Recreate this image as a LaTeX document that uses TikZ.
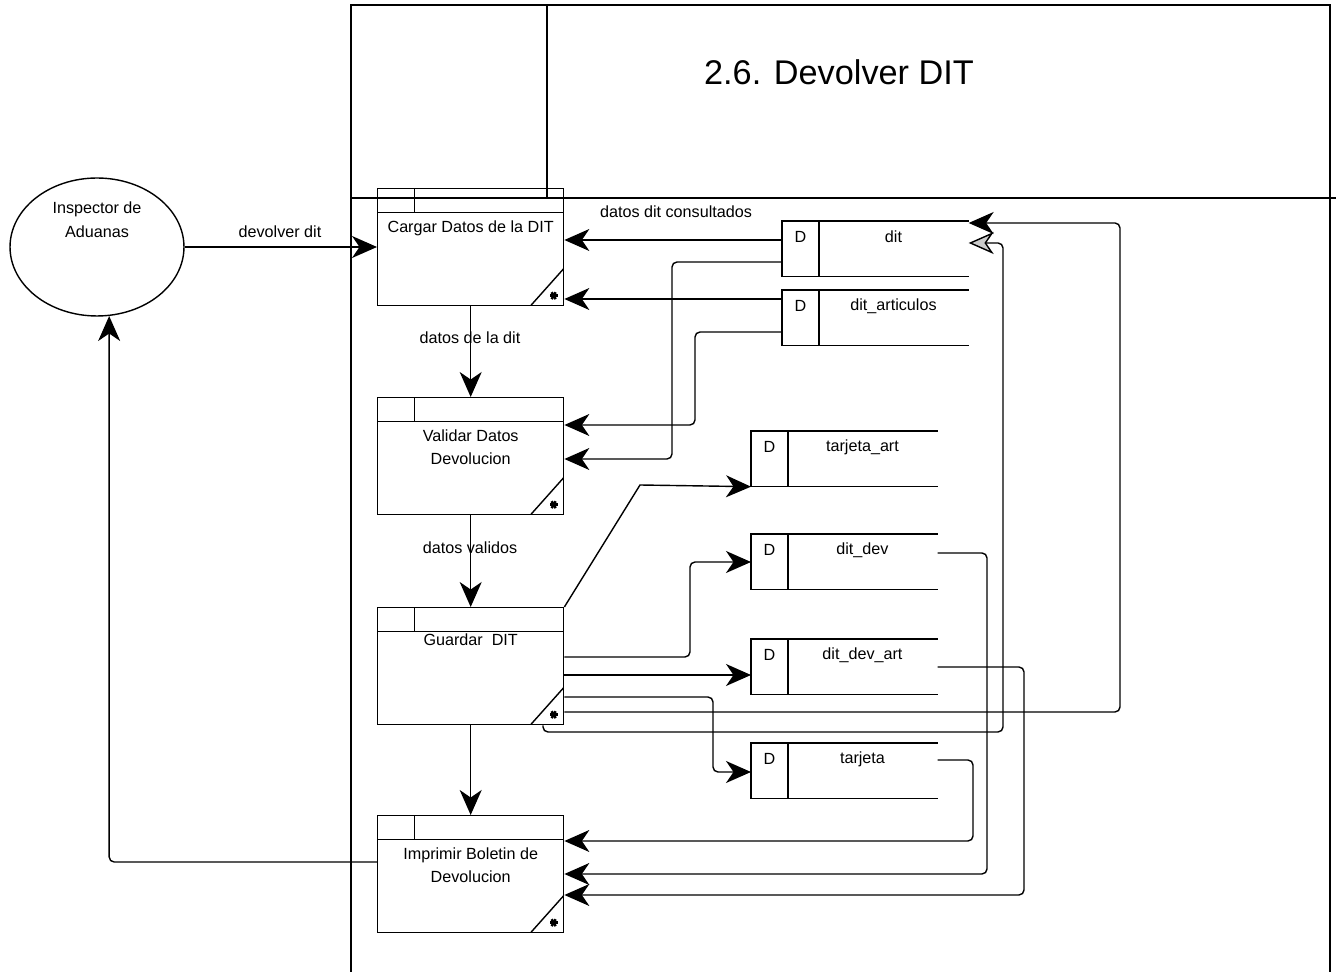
\documentclass[tikz,border=0pt]{standalone}
\usepackage{fontspec}
\setmainfont{Liberation Sans}
\usetikzlibrary{arrows.meta,positioning,shapes.geometric}

\tikzset{
  ptext/.style={font=\fontsize{9.2}{13.6}\selectfont, align=center, inner sep=0pt},
  proc/.style={draw, rectangle, line width=0.8pt, anchor=north west,
    minimum width=3.72cm, minimum height=2.34cm, inner sep=0pt,
    path picture={
      \draw[line width=0.8pt] ([yshift=-0.48cm]path picture bounding box.north west) -- ([yshift=-0.48cm]path picture bounding box.north east);
      \draw[line width=0.8pt] ([xshift=0.74cm]path picture bounding box.north west) -- ++(0,-0.48cm);
      \draw[line width=0.8pt] ([xshift=-0.66cm]path picture bounding box.south east) -- ([yshift=0.74cm]path picture bounding box.south east);
      \foreach \a in {0,60,120}
        \draw[line width=1.4pt] ([xshift=-0.2cm,yshift=0.2cm]path picture bounding box.south east) ++(\a:0.08cm) -- ++(\a+180:0.16cm);
    }},
  store/.style={rectangle, anchor=north west, minimum width=3.72cm, minimum height=1.1cm, inner sep=0pt},
  flow/.style={line width=0.8pt, rounded corners=0.1cm, -{Stealth[length=0.5cm, width=0.44cm, inset=0.15cm]}},
  flowh/.style={line width=0.8pt, rounded corners=0.1cm, -{Stealth[length=0.5cm, width=0.44cm, inset=0.15cm, fill=gray!40]}}
}

\begin{document}
\begin{tikzpicture}[x=0.02cm, y=-0.02cm]
\useasboundingbox (0,0) rectangle (1336,972);

% Frame and title
\draw[line width=1pt] (351,990) -- (351,5) -- (1330,5) -- (1330,990);
\draw[line width=1pt] (351,198) -- (1340,198);
\draw[line width=1pt] (547,5) -- (547,198);
\node[font=\fontsize{19.5}{23}\selectfont] (title) at (839,72) {2.6. Devolver DIT};

% External entity
\node[draw, ellipse, line width=0.8pt, minimum width=3.48cm, minimum height=2.76cm] (insp) at (97,247) {};
\node[ptext] (insp-txt) at (97,220) {Inspector de\\Aduanas};

% Processes
\node[proc] (cargar) at (377,188) {};
\node[proc] (validar) at (377,397) {};
\node[proc] (guardar) at (377,607) {};
\node[proc] (imprimir) at (377,815) {};
\node[ptext, anchor=north] (cargar-txt) at ([yshift=-0.64cm]cargar.north) {Cargar Datos de la DIT};
\node[ptext, anchor=north] (validar-txt) at ([yshift=-0.64cm]validar.north) {Validar Datos\\Devolucion};
\node[ptext, anchor=north] (guardar-txt) at ([yshift=-0.52cm]guardar.north) {Guardar\ \ DIT};
\node[ptext, anchor=north] (imprimir-txt) at ([yshift=-0.64cm]imprimir.north) {Imprimir Boletin de\\Devolucion};

% Data stores
\node[store] (dit) at (782,221) {};
\node[store] (ditart) at (782,290) {};
\node[store] (tarjart) at (751,431) {};
\node[store] (ditdev) at (751,534) {};
\node[store] (ditdevart) at (751,639) {};
\node[store] (tarjeta) at (751,743) {};
\foreach \s/\t in {dit/dit, ditart/dit\_articulos, tarjart/tarjeta\_art, ditdev/dit\_dev, ditdevart/dit\_dev\_art, tarjeta/tarjeta} {
  \draw[line width=0.8pt] (\s.north east) -- (\s.north west) -- (\s.south west) -- (\s.south east);
  \draw[line width=0.8pt] ([xshift=0.74cm]\s.north west) -- ([xshift=0.74cm]\s.south west);
  \node[ptext] (\s-d) at ([xshift=0.37cm,yshift=-0.32cm]\s.north west) {D};
  \node[ptext] (\s-lbl) at ([xshift=2.23cm,yshift=-0.32cm]\s.north west) {\t};
}

% Flows
\draw[flow] (insp.east) -- (cargar.west |- insp.east);
\node[ptext] (lbl-dev) at (280,232) {devolver dit};
\draw[flow] (cargar.south) -- (validar.north);
\node[ptext] (lbl-dd) at (470,338) {datos de la dit};
\draw[flow] (validar.south) -- (guardar.north);
\node[ptext] (lbl-dv) at (470,548) {datos validos};
\draw[flow] (guardar.south) -- (imprimir.north);
\draw[flow] (imprimir.west |- 0,862) -| (insp.-80);

\draw[flow] (dit.west |- 0,240) -- (cargar.east |- 0,240);
\node[ptext] (lbl-dc) at (676,212) {datos dit consultados};
\draw[flow] (dit.west |- 0,262) -- (672,262) -- (672,459) -- (validar.east |- 0,459);
\draw[flow] (ditart.west |- 0,299) -- (cargar.east |- 0,299);
\draw[flow] (ditart.west |- 0,332) -- (695,332) -- (695,425) -- (validar.east |- 0,425);

\draw[flow, sharp corners] (guardar.north east) -- (640,485) -- (tarjart.south west);
\draw[flow] (guardar.east |- 0,657) -- (690,657) -- (690,562) -- (ditdev.west |- 0,562);
\draw[flow] (guardar.east |- 0,675) -- (ditdevart.west |- 0,675);
\draw[flow] (guardar.east |- 0,697) -- (713,697) -- (713,772) -- (tarjeta.west |- 0,772);
\draw[flow] (guardar.east |- 0,712) -- (1120,712) -- (1120,223) -- (dit.east |- 0,223);
\draw[flowh] (guardar.south -| 543,0) -- (543,732) -- (1003,732) -- (1003,243) -- (dit.east |- 0,243);

\draw[flow] (tarjeta.east |- 0,760) -- (973,760) -- (973,841) -- (imprimir.east |- 0,841);
\draw[flow] (ditdev.east |- 0,553) -- (987,553) -- (987,874) -- (imprimir.east |- 0,874);
\draw[flow] (ditdevart.east |- 0,667) -- (1024,667) -- (1024,895) -- (imprimir.east |- 0,895);

\end{tikzpicture}
\end{document}
